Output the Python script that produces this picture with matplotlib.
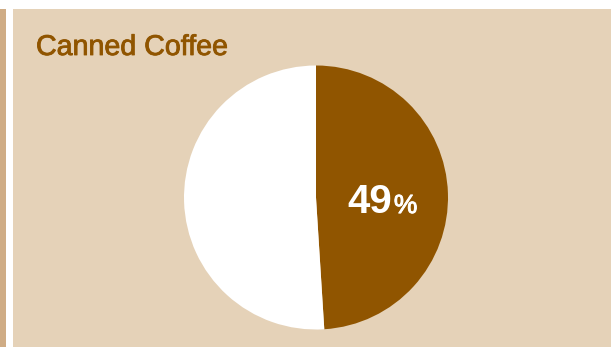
import matplotlib.pyplot as plt
import matplotlib.patheffects as pe
from matplotlib.patches import Rectangle

# Canned coffee share
title = "Canned Coffee"
share = 49
values = [share, 100 - share]
colors = ["#905500", "#FFFFFF"]

bg = "#E5D2B8"
stripe = "#CFAC85"

fig = plt.figure(figsize=(6.11, 3.47), dpi=100)
fig.patch.set_facecolor("white")

# side stripe and panel (kept behind the pie)
fig.patches.append(Rectangle((0, 0), 6 / 611, 338 / 347, transform=fig.transFigure,
                             facecolor=stripe, edgecolor="none", zorder=-2))
fig.patches.append(Rectangle((13 / 611, 0), 1, 338 / 347, transform=fig.transFigure,
                             facecolor=bg, edgecolor="none", zorder=-2))

# a thin stroke thickens the regular face to a medium weight
medium = [pe.withStroke(linewidth=0.6, foreground="#905500")]
fig.text(36 / 611, 1 - 55 / 347, title, color="#905500", fontsize=20.6,
         family="Liberation Sans", va="baseline", ha="left", path_effects=medium)

# pie axes: centre (316, 197), radius ~132 px
r = 132
ax = fig.add_axes([(316 - r) / 611, 1 - (197.5 + r) / 347, 2 * r / 611, 2 * r / 347])
ax.patch.set_visible(False)
ax.pie(values, colors=colors, startangle=90, counterclock=False,
       wedgeprops=dict(linewidth=0))
ax.set_aspect("equal")
ax.set_xlim(-1, 1)
ax.set_ylim(-1, 1)

ax.text(0.58, -0.118, str(share), color="white", fontsize=29, fontweight="bold",
        family="Liberation Sans", ha="right", va="baseline")
ax.text(0.59, -0.118, "%", color="white", fontsize=19,
        family="Liberation Sans", ha="left", va="baseline",
        path_effects=[pe.withStroke(linewidth=0.7, foreground="white")])

fig.savefig("out.png", dpi=100, facecolor=fig.get_facecolor())
